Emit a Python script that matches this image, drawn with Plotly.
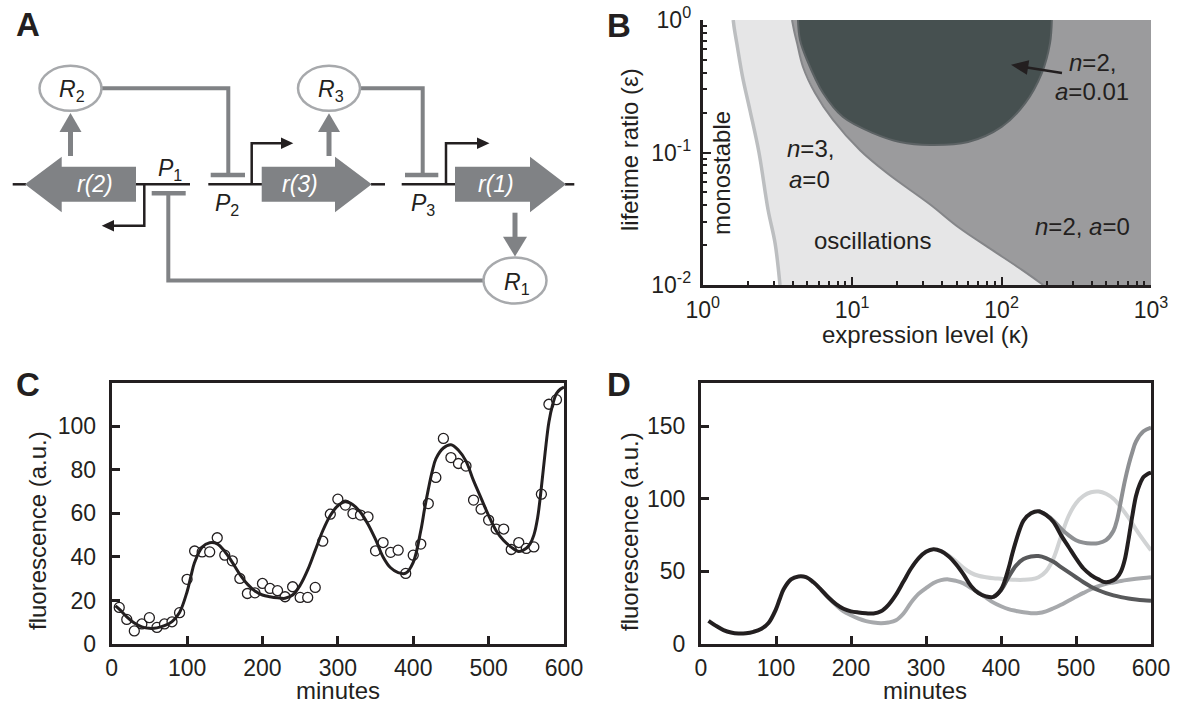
import plotly.graph_objects as go

# ---------------- DATA ----------------
# Panel B: region boundaries (expression level kappa, lifetime ratio eps)
mono_kappa = [1.60, 1.63, 1.69, 1.85, 2.07, 2.38, 2.74, 3.05, 3.29]
mono_eps = [1.0, 0.85, 0.67, 0.371, 0.209, 0.10, 0.0368, 0.0207, 0.01]

n2a0_kappa = [3.96, 4.10, 4.28, 4.69, 5.65, 7.45, 11.3, 17.1, 33.3, 51.2, 86.3, 137, 190]
n2a0_eps = [1.0, 0.82, 0.67, 0.442, 0.281, 0.176, 0.104, 0.070, 0.0405, 0.0274, 0.0184, 0.0130, 0.01]

n2a001_kappa = [4.34, 4.48, 4.99, 6.39, 8.69, 13.8, 20.9, 33.3, 59.7, 100, 144, 186, 211, 217]
n2a001_eps = [1.0, 0.706, 0.499, 0.281, 0.185, 0.140, 0.120, 0.114, 0.120, 0.156, 0.236, 0.398, 0.67, 1.0]

b_xticks = [1, 10, 100, 1000]
b_xticktext = ["10<sup>0</sup>", "10<sup>1</sup>", "10<sup>2</sup>", "10<sup>3</sup>"]
b_yticks = [0.01, 0.1, 1]
b_yticktext = ["10<sup>-2</sup>", "10<sup>-1</sup>", "10<sup>0</sup>"]

# Panel C: measured fluorescence (minutes, a.u.)
obs_t = [10, 20, 30, 40, 50, 60, 70, 80, 90, 100, 110, 120, 130, 140, 150, 160, 170, 180, 190, 200,
         210, 220, 230, 240, 250, 260, 270, 280, 290, 300, 310, 320, 330, 340, 350, 360, 370, 380, 390, 400,
         410, 420, 430, 440, 450, 460, 470, 480, 490, 500, 510, 520, 530, 540, 550, 560, 570, 580, 590]
obs_f = [16.8, 11.3, 6.0, 9.2, 12.1, 7.6, 9.2, 10.2, 14.4, 29.7, 42.7, 42.3, 42.3, 48.8, 40.8, 38.2, 30.1, 23.2, 23.5, 27.8,
         25.5, 24.5, 21.7, 26.3, 21.4, 21.4, 26.0, 47.2, 59.6, 66.5, 63.8, 59.9, 59.2, 58.4, 42.8, 46.6, 42.1, 43.1, 32.4, 40.8,
         45.9, 64.5, 76.5, 94.4, 85.6, 82.9, 81.7, 66.1, 61.9, 56.9, 52.8, 52.8, 43.4, 46.6, 43.9, 44.6, 68.8, 110.1, 112.2]

# Model fit (used in C and as the black curve in D)
fit_t = [5, 10, 20, 30, 40, 50, 60, 70, 80, 90, 100, 105, 110, 120, 130, 140, 150, 160, 170, 180, 190, 200,
         210, 220, 230, 240, 250, 260, 270, 280, 290, 300, 310, 320, 330, 340, 350, 360, 370, 380, 390, 400,
         410, 415, 420, 425, 430, 440, 450, 460, 470, 480, 490, 500, 510, 520, 530, 540, 550, 555, 560, 565,
         570, 575, 580, 585, 590, 595, 600]
fit_f = [17.5, 16, 12.5, 9.6, 7.9, 7.2, 7.4, 8.4, 10.3, 14.5, 24, 31, 37.5, 44.5, 46.5, 46, 42.5, 37.5, 32, 27.5, 24.3, 22.5,
         21.7, 21.2, 21, 22.5, 27, 34, 43, 52, 59, 63.5, 65.3, 64, 60.5, 55, 48, 40, 35, 32.8, 32.5, 37.5,
         52, 62, 71, 79, 85, 90, 91.5, 89, 84, 75, 67, 59, 52, 47.5, 44.5, 42.5, 44, 46, 50, 58,
         72, 88, 102, 110, 115, 117, 118]

# Panel D: alternative simulated trajectories
sim_a_t = [160, 170, 180, 190, 200, 210, 220, 230, 240, 250, 260, 270, 280, 290, 300, 310, 320, 330, 340, 350,
           360, 370, 380, 390, 400, 410, 420, 430, 440, 450, 460, 470, 480, 490, 500, 510, 520, 530, 540, 550,
           560, 570, 580, 590, 600]
sim_a_f = [37.5, 31.8, 26.8, 22.5, 19.8, 17.5, 15.8, 14.8, 14.3, 14.8, 16.3, 21, 28.5, 34.5, 38.5, 42, 44, 44.5, 43.5, 41.8,
           38.5, 35.5, 32, 28.5, 26, 24, 22.8, 21.8, 21.2, 21.3, 22.5, 24.6, 27, 29.8, 32.5, 35.2, 37.7, 39.8, 41.4, 42.4,
           43.4, 44.2, 44.9, 45.5, 46]
sim_b_t = [320, 330, 340, 350, 360, 370, 380, 390, 400, 410, 420, 430, 440, 450, 460, 470, 480, 490, 500, 510,
           520, 530, 540, 550, 560, 570, 580, 590, 600]
sim_b_f = [64, 61, 57, 52.5, 49, 47, 46, 45.3, 45, 44.5, 44.2, 44.2, 44.6, 46, 50, 59, 74, 88, 97, 102,
           104.5, 105, 103.5, 100, 94, 87, 79, 71.5, 64.5]
sim_c_t = [390, 400, 410, 420, 430, 440, 450, 460, 470, 480, 490, 500, 510, 520, 530, 540, 550, 560, 570, 580, 590, 600]
sim_c_f = [32.5, 37, 46, 54, 58.5, 60.3, 60.6, 59.2, 56.6, 53, 49.5, 46, 42.5, 39.5, 37, 35, 33.5, 32.3, 31.3, 30.6, 30.1, 29.8]
sim_d_t = [450, 460, 470, 480, 490, 500, 510, 520, 530, 540, 550, 555, 560, 565, 570, 575, 580, 590, 600]
sim_d_f = [91.5, 89, 85, 79.5, 75, 71.5, 69.8, 69.2, 69.5, 71.5, 78, 86, 99, 112, 123, 132, 139.5, 146.5, 149]

c_yticks = [0, 20, 40, 60, 80, 100]
d_yticks = [0, 50, 100, 150]
time_ticks = [0, 100, 200, 300, 400, 500, 600]

# ---------------- STYLE ----------------
W, H = 1188, 705
BLACK = "#231f20"
GRAY = "#808285"
ELL = "#a7a9ac"
FONT = "Liberation Sans, Arial, sans-serif"
TICKSIZE = 23
TITLESIZE = 24


def px(x):
    return x / W


def py(y):
    return 1 - y / H


fig = go.Figure()

# ---- Panel B fills ----
fig.add_trace(go.Scatter(x=mono_kappa + [1000, 1000], y=mono_eps + [0.01, 1.0], fill="toself",
                         fillcolor="#e6e6e7", line=dict(width=0), mode="lines", hoverinfo="skip",
                         xaxis="x", yaxis="y"))
fig.add_trace(go.Scatter(x=n2a0_kappa + [1000, 1000], y=n2a0_eps + [0.01, 1.0], fill="toself",
                         fillcolor="#9b9b9d", line=dict(width=0), mode="lines", hoverinfo="skip",
                         xaxis="x", yaxis="y"))
fig.add_trace(go.Scatter(x=n2a0_kappa, y=n2a0_eps, mode="lines", line=dict(color="#858689", width=2, shape="spline"),
                         hoverinfo="skip", xaxis="x", yaxis="y"))
fig.add_trace(go.Scatter(x=n2a001_kappa, y=n2a001_eps, fill="toself", fillcolor="#465050",
                         line=dict(color="#5c6264", width=2, shape="spline"), mode="lines", hoverinfo="skip",
                         xaxis="x", yaxis="y"))
fig.add_trace(go.Scatter(x=mono_kappa, y=mono_eps, mode="lines", line=dict(color="#bcbec0", width=3.5, shape="spline"),
                         hoverinfo="skip", xaxis="x", yaxis="y"))

# ---- Panel C ----
fig.add_trace(go.Scatter(x=obs_t, y=obs_f, mode="markers",
                         marker=dict(symbol="circle", size=10, color="white", line=dict(color=BLACK, width=1.3)),
                         xaxis="x2", yaxis="y2"))
fig.add_trace(go.Scatter(x=fit_t, y=fit_f, mode="lines", line=dict(color=BLACK, width=3, shape="spline"),
                         xaxis="x2", yaxis="y2"))

# ---- Panel D ----
for tt, ff, col in [(sim_b_t, sim_b_f, "#d1d3d4"), (sim_a_t, sim_a_f, "#a7a9ac"),
                    (sim_d_t, sim_d_f, "#8e9093"), (sim_c_t, sim_c_f, "#58595b"),
                    (fit_t[1:], fit_f[1:], BLACK)]:
    fig.add_trace(go.Scatter(x=tt, y=ff, mode="lines", line=dict(color=col, width=4, shape="spline"),
                             xaxis="x3", yaxis="y3"))

# ---------------- AXES ----------------
tickfont = dict(family=FONT, size=TICKSIZE, color=BLACK)
common_lin = dict(showgrid=False, zeroline=False, showline=True, linecolor=BLACK, linewidth=3,
                  mirror=True, ticks="inside", ticklen=8, tickwidth=2.5, tickcolor=BLACK,
                  tickfont=tickfont, tickmode="array", automargin=False)

fig.update_layout(
    width=W, height=H, autosize=False, margin=dict(l=0, r=0, t=0, b=0, pad=0),
    paper_bgcolor="white", plot_bgcolor="white", showlegend=False,
    xaxis=dict(domain=[px(702.7), px(1151)], type="log", range=[0, 3], showgrid=False, zeroline=False,
               showline=True, linecolor=BLACK, linewidth=3, ticks="inside", ticklen=8, tickwidth=2,
               tickcolor=BLACK, tickmode="array", tickvals=b_xticks, ticktext=b_xticktext, tickfont=tickfont,
               ticklabelstandoff=2, anchor="y", automargin=False,
               minor=dict(ticks="inside", ticklen=4, tickwidth=2, tickcolor=BLACK, showgrid=False,
                          tickvals=[2, 3, 4, 5, 6, 7, 8, 9, 20, 30, 40, 50, 60, 70, 80, 90,
                                    200, 300, 400, 500, 600, 700, 800, 900])),
    yaxis=dict(domain=[py(285), py(20)], type="log", range=[-2, 0], showgrid=False, zeroline=False,
               showline=True, linecolor=BLACK, linewidth=3, ticks="inside", ticklen=8, tickwidth=2,
               tickcolor=BLACK, tickmode="array", tickvals=b_yticks, ticktext=b_yticktext, tickfont=tickfont,
               ticklabelstandoff=4, anchor="x", automargin=False,
               minor=dict(ticks="inside", ticklen=4, tickwidth=2, tickcolor=BLACK, showgrid=False,
                          tickvals=[0.02, 0.03, 0.04, 0.05, 0.06, 0.07, 0.08, 0.09,
                                    0.2, 0.3, 0.4, 0.5, 0.6, 0.7, 0.8, 0.9])),
    xaxis2=dict(domain=[px(111.7), px(564)], range=[0, 600], tickvals=time_ticks, anchor="y2",
                ticklabelstandoff=1, **common_lin),
    yaxis2=dict(domain=[py(644), py(382.7)], range=[0, 120], tickvals=c_yticks, anchor="x2",
                ticklabelstandoff=8, **common_lin),
    xaxis3=dict(domain=[px(701), px(1151)], range=[0, 600], tickvals=time_ticks, anchor="y3",
                ticklabelstandoff=1, **common_lin),
    yaxis3=dict(domain=[py(644), py(382.7)], range=[0, 180], tickvals=d_yticks, anchor="x3",
                ticklabelstandoff=8, **common_lin),
)

# ---------------- PANEL A SCHEMATIC (shapes) ----------------
shapes = []


def pstr(pts, close):
    s = "M " + " L ".join(f"{px(x):.5f},{py(y):.5f}" for x, y in pts)
    return s + (" Z" if close else "")


def poly(pts, fill):
    shapes.append(dict(type="path", xref="paper", yref="paper", path=pstr(pts, True),
                       fillcolor=fill, line=dict(width=0)))


def pline(pts, color, w):
    shapes.append(dict(type="path", xref="paper", yref="paper", path=pstr(pts, False),
                       fillcolor="rgba(0,0,0,0)", line=dict(color=color, width=w)))


Y0 = 184.3
# DNA baseline
for a, b in [(12.7, 26), (135, 190), (208.3, 262), (371, 385), (401.7, 456), (565, 574.3)]:
    pline([(a, Y0), (b, Y0)], BLACK, 2.5)

# gene block arrows
poly([(25, Y0), (61.7, 156.7), (61.7, 166.7), (136, 166.7), (136, 201.7), (61.7, 201.7), (61.7, 212.3)], GRAY)
poly([(261.7, 166.7), (335, 166.7), (335, 156.7), (371.7, Y0), (335, 212.3), (335, 201.7), (261.7, 201.7)], GRAY)
poly([(455, 166.7), (530, 166.7), (530, 156.7), (566, Y0), (530, 212.3), (530, 201.7), (455, 201.7)], GRAY)

# promoter (transcription start) arrows
pline([(144.3, Y0), (144.3, 225.7), (113, 225.7)], BLACK, 2.5)
poly([(101.7, 225.7), (114, 220), (114, 231.4)], BLACK)
pline([(251.7, Y0), (251.7, 143.3), (282, 143.3)], BLACK, 2.5)
poly([(293.3, 143.3), (281, 137.6), (281, 149)], BLACK)
pline([(446, Y0), (446, 143.3), (478, 143.3)], BLACK, 2.5)
poly([(489.5, 143.3), (477, 137.6), (477, 149)], BLACK)

# repression lines and bars
pline([(168.3, 193.3), (168.3, 280.5), (484, 280.5)], GRAY, 4)
pline([(151.7, 193.3), (185.7, 193.3)], GRAY, 4.5)
pline([(228.3, 175), (228.3, 88.3), (100, 88.3)], GRAY, 4)
pline([(210.7, 175), (245, 175)], GRAY, 4.5)
pline([(422.7, 175), (422.7, 88.3), (358, 88.3)], GRAY, 4)
pline([(405, 175), (438.3, 175)], GRAY, 4.5)

# production arrows
pline([(70.5, 156), (70.5, 131)], GRAY, 5)
poly([(70.5, 113), (59.5, 132), (81.5, 132)], GRAY)
pline([(329, 156), (329, 131)], GRAY, 5)
poly([(329, 113.3), (318, 132), (340, 132)], GRAY)
pline([(515, 212.7), (515, 238)], GRAY, 5)
poly([(515, 256.5), (503, 236.7), (527, 236.7)], GRAY)

# repressor protein ellipses
for cx, cy, rx, ry in [(70.5, 88.3, 31, 22.5), (329, 88.3, 31, 22.5), (515, 280.5, 31.5, 23)]:
    shapes.append(dict(type="circle", xref="paper", yref="paper", x0=px(cx - rx), x1=px(cx + rx),
                       y0=py(cy + ry), y1=py(cy - ry), fillcolor="white", line=dict(color=ELL, width=2.5)))

# arrow in panel B
pline([(1062, 73), (1027, 67.4)], BLACK, 2.5)
poly([(1011, 64.8), (1029.2, 60.3), (1026.9, 74.7)], BLACK)

fig.update_layout(shapes=shapes)

# ---------------- TEXT ----------------
ann = []


def text(t, x, y, size=TICKSIZE, color=BLACK, xa="center", ya="middle", angle=0, bold=False):
    ann.append(dict(text=(f"<b>{t}</b>" if bold else t), x=px(x), y=py(y), xref="paper", yref="paper",
                    showarrow=False, xanchor=xa, yanchor=ya, textangle=angle,
                    font=dict(family=FONT, size=size, color=color)))


# panel letters
text("A", 27.5, 24.5, size=33, bold=True)
text("B", 618.5, 25, size=33, bold=True)
text("C", 27.5, 384, size=33, bold=True)
text("D", 618.5, 384, size=33, bold=True)

# panel A labels
text("<i>R</i><sub>2</sub>", 72, 91)
text("<i>R</i><sub>3</sub>", 330.5, 91)
text("<i>R</i><sub>1</sub>", 516.5, 283)
text("<i>P</i><sub>1</sub>", 170, 169)
text("<i>P</i><sub>2</sub>", 227, 205)
text("<i>P</i><sub>3</sub>", 423, 205)
text("<i>r(2)</i>", 95, Y0, color="white")
text("<i>r(3)</i>", 300, Y0, color="white")
text("<i>r(1)</i>", 496, Y0, color="white")

# panel B labels
text("lifetime ratio (\u03b5)", 630, 150, size=TITLESIZE, angle=-90)
text("expression level (\u03ba)", 926, 334, size=TITLESIZE)
text("monostable", 721, 173, size=TITLESIZE, angle=-90)
text("<i>n</i>=3,", 785, 149, size=TITLESIZE, xa="left")
text("<i>a</i>=0", 787, 179, size=TITLESIZE, xa="left")
text("oscillations", 812, 240, size=TITLESIZE, xa="left")
text("<i>n</i>=2, <i>a</i>=0", 1132, 226, size=TITLESIZE, xa="right")
text("<i>n</i>=2,", 1092, 62, size=TITLESIZE)
text("<i>a</i>=0.01", 1092, 92, size=TITLESIZE)

# panel C / D titles
text("fluorescence (a.u.)", 37, 531, size=TITLESIZE, angle=-90)
text("minutes", 338, 690, size=TITLESIZE)
text("fluorescence (a.u.)", 629, 531, size=TITLESIZE, angle=-90)
text("minutes", 925, 690, size=TITLESIZE)

fig.update_layout(annotations=ann)

fig.write_html("out.html", config={"displayModeBar": False},
               post_script="document.body.style.margin='0px';document.body.style.overflow='hidden';")
